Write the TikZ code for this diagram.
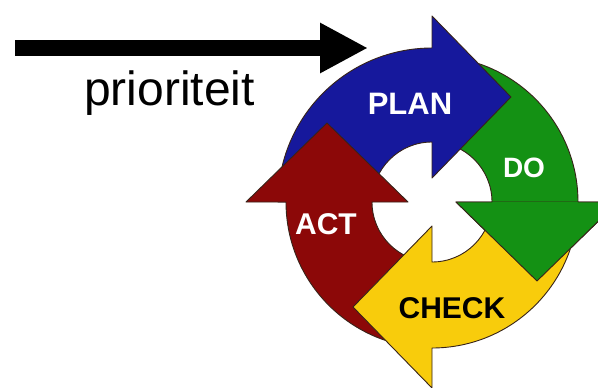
\documentclass[tikz,border=0pt]{standalone}
\usepackage{fontspec}
\setmainfont{Liberation Sans}
\usetikzlibrary{arrows.meta}
\definecolor{planblue}{RGB}{22,24,156}
\definecolor{dogreen}{RGB}{20,145,20}
\definecolor{checkyellow}{RGB}{248,204,12}
\definecolor{actred}{RGB}{140,8,8}
\definecolor{edgedark}{RGB}{55,35,25}
\tikzset{
  arrowbody/.style={draw=edgedark, line width=0.9pt, line join=round},
  edgeline/.style={draw=edgedark, line width=0.9pt, line join=round},
  steplabel/.style={font=\bfseries, inner sep=0pt},
  bigarrow/.style={line width=16pt, -{Triangle[length=48pt,width=47pt]}}
}
% one curved arrow of the cycle, in a frame where its head base is at 90 deg
\newcommand\pdcaarrow[3]{%
  \path[arrowbody, fill=#2, rotate=#1]
    (180:#3) arc[start angle=180, end angle=90, radius=#3]
    -- (90:186pt) -- (79pt,105pt) -- (90:24pt) -- (90:60pt)
    arc[start angle=90, end angle=180, radius=60pt] -- cycle;}
\begin{document}
\begin{tikzpicture}[x=1pt, y=1pt]
  \useasboundingbox (0,-388) rectangle (598,0);
  \clip (0,-388) rectangle (598,0);
  \fill[white] (0,-388) rectangle (598,0);

  % priority arrow
  \coordinate (arrowstart) at (15,-48);
  \coordinate (arrowend) at (368,-48);
  \draw[bigarrow] (arrowstart) -- (arrowend);
  \node[inner sep=0pt, anchor=base, font=\fontsize{48}{56}\selectfont] (prio) at (169.5,-105) {prioriteit};

  % PDCA cycle
  \begin{scope}[shift={(432,-202)}]
    \pdcaarrow{-90}{dogreen}{146pt}
    \pdcaarrow{0}{planblue}{154pt}
    \pdcaarrow{90}{actred}{146pt}
    \pdcaarrow{180}{checkyellow}{146pt}
    % green head lies on top of the yellow tail
    \begin{scope}[rotate=-90]
      \fill[dogreen] (90:24pt) -- (90:186pt) -- (79pt,105pt) -- cycle;
      \draw[edgeline] (90:146pt) -- (90:186pt) -- (79pt,105pt) -- (90:24pt) -- (90:60pt);
    \end{scope}
  \end{scope}

  \node[steplabel, text=white, font=\bfseries\fontsize{31}{36}\selectfont] (plan) at (410,-104) {PLAN};
  \node[steplabel, text=white, font=\bfseries\fontsize{28}{34}\selectfont] (do) at (524,-168) {DO};
  \node[steplabel, text=white, font=\bfseries\fontsize{30}{36}\selectfont] (act) at (326,-224) {ACT};
  \node[steplabel, text=black, font=\bfseries\fontsize{30}{36}\selectfont] (check) at (452,-308) {CHECK};
\end{tikzpicture}
\end{document}
